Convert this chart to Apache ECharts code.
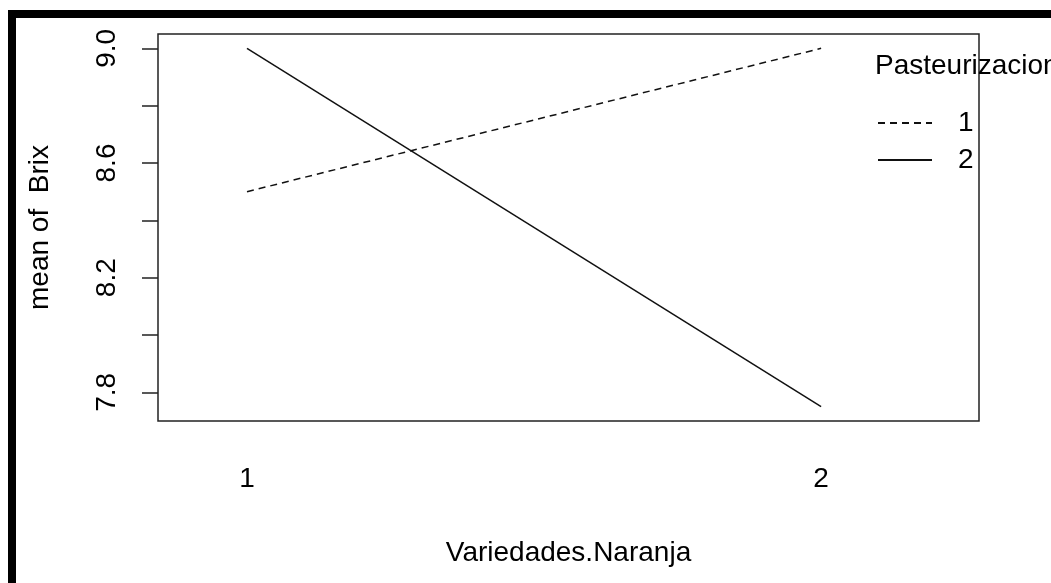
<!DOCTYPE html>
<html>
<head>
<meta charset="utf-8">
<script src="https://cdn.jsdelivr.net/npm/echarts@6/dist/echarts.min.js"></script>
<style>
    html, body { margin: 0; padding: 0; background: #fff; }
    #chart { width: 1051px; height: 583px; position: relative; }
    /*black frame on top and left, as in the screenshot*/
    #frame {
        position: absolute; left: 8px; top: 10px; right: 0; bottom: 0;
        border-top: 8px solid #000; border-left: 8px solid #000;
        pointer-events: none;
    }
</style>
</head>
<body>
<div style="position: relative; width: 1051px; height: 583px;">
    <div id="chart"></div>
    <div id="frame"></div>
</div>
<script>
var variedades = [1, 2];
var pasteurizacion1 = [8.5, 9.0];
var pasteurizacion2 = [9.0, 7.75];
var seriesNames = ['1', '2'];
var yTicks = [7.8, 8.0, 8.2, 8.4, 8.6, 8.8, 9.0];
var yLabels = [7.8, 8.2, 8.6, 9.0];
var xLabels = [1, 2];

var font = "'Liberation Sans', Arial, sans-serif";

function pairs(xs, ys) {
    var out = [];
    for (var i = 0; i < xs.length; i++) {
        out.push([xs[i], ys[i]]);
    }
    return out;
}

var myChart = echarts.init(document.getElementById('chart'));
var option = {
    animation: false,
    backgroundColor: '#fff',
    color: ['#111', '#111'],
    title: {
        text: 'Pasteurizacion',
        left: 875,
        top: 52,
        padding: 0,
        textStyle: { fontFamily: font, fontSize: 28, fontWeight: 'normal', color: '#000' }
    },
    legend: {
        data: seriesNames,
        orient: 'vertical',
        left: 877,
        top: 109,
        padding: 0,
        itemWidth: 54,
        itemHeight: 14,
        itemGap: 9,
        itemStyle: { opacity: 0 },
        textStyle: { fontFamily: font, fontSize: 28, color: '#000', padding: [0, 0, 0, 21] }
    },
    grid: {
        left: 158,
        top: 34,
        right: 72,
        bottom: 162,
        show: true,
        borderColor: '#222',
        borderWidth: 1.5,
        backgroundColor: 'transparent'
    },
    xAxis: {
        type: 'value',
        min: 0.845,
        max: 2.275,
        name: 'Variedades.Naranja',
        nameLocation: 'middle',
        nameGap: 118,
        nameTextStyle: { fontFamily: font, fontSize: 28, color: '#000' },
        axisLine: { show: false },
        axisTick: { show: false },
        splitLine: { show: false },
        axisLabel: {
            customValues: xLabels,
            margin: 44,
            fontFamily: font,
            fontSize: 28,
            color: '#000'
        }
    },
    yAxis: {
        type: 'value',
        min: 7.7,
        max: 9.05,
        name: 'mean of  Brix',
        nameLocation: 'middle',
        nameGap: 104,
        nameTextStyle: { fontFamily: font, fontSize: 28, color: '#000' },
        axisLine: { show: false },
        splitLine: { show: false },
        axisTick: {
            show: true,
            customValues: yTicks,
            length: 16,
            lineStyle: { color: '#222', width: 1.5 }
        },
        axisLabel: {
            customValues: yLabels,
            rotate: 90,
            margin: 37,
            fontFamily: font,
            fontSize: 28,
            color: '#000',
            formatter: function (v) { return v.toFixed(1); }
        }
    },
    series: [
        {
            name: seriesNames[0],
            type: 'line',
            symbol: 'none',
            data: pairs(variedades, pasteurizacion1),
            lineStyle: { color: '#111', width: 1.5, type: [7, 5] }
        },
        {
            name: seriesNames[1],
            type: 'line',
            symbol: 'none',
            data: pairs(variedades, pasteurizacion2),
            lineStyle: { color: '#111', width: 1.5, type: 'solid' }
        }
    ]
};
myChart.setOption(option);
</script>
</body>
</html>
